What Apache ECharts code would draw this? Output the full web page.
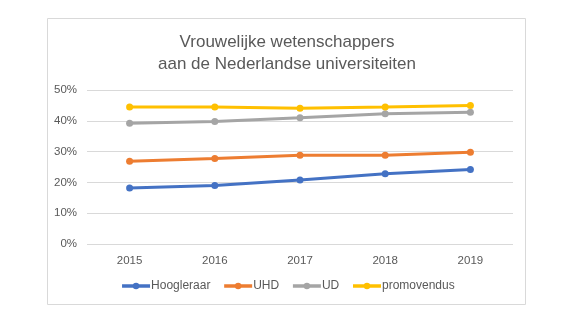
<!DOCTYPE html>
<html><head><meta charset="utf-8">
<script src="https://cdn.jsdelivr.net/npm/echarts@6/dist/echarts.min.js"></script>
<style>html,body{margin:0;padding:0;background:#fff}#c{width:575px;height:324px}</style>
</head><body><div id="c"></div>
<script>
const years = ['2015','2016','2017','2018','2019'];
const hoogleraar = [18.2, 19.0, 20.8, 22.8, 24.2];
const uhd = [26.9, 27.8, 28.8, 28.8, 29.8];
const ud = [39.2, 39.8, 41.0, 42.3, 42.8];
const promovendus = [44.5, 44.5, 44.1, 44.5, 45.0];
const seriesNames = ['Hoogleraar', 'UHD', 'UD', 'promovendus'];
const colors = ['#4472C4', '#ED7D31', '#A5A5A5', '#FFC000'];
const yTicks = [0, 10, 20, 30, 40, 50];

const chart = echarts.init(document.getElementById('c'), null, {renderer: 'canvas'});
const font = 'Liberation Sans, Arial, sans-serif';
const mk = (name, data, i) => ({
  name, type: 'line', data, color: colors[i],
  symbol: 'circle', symbolSize: 7,
  lineStyle: {width: 3, color: colors[i]},
  itemStyle: {color: colors[i]},
  emphasis: {disabled: true}
});
chart.setOption({
  animation: false,
  textStyle: {fontFamily: font},
  title: {
    text: 'Vrouwelijke wetenschappers\naan de Nederlandse universiteiten',
    left: 282, top: 26, textAlign: 'center',
    textStyle: {fontFamily: font, fontSize: 17, fontWeight: 'normal', color: '#595959', lineHeight: 22}
  },
  graphic: [{type: 'rect', shape: {x: 47.5, y: 18.5, width: 478, height: 286}, style: {fill: null, stroke: '#D9D9D9', lineWidth: 1}, z: -1}],
  legend: {
    data: seriesNames, bottom: 27, left: 'center', itemWidth: 28, itemHeight: 8, itemGap: 12,
    lineStyle: {width: 3.5},
    textStyle: {fontFamily: font, fontSize: 12, color: '#595959', padding: [0,0,0,-4]}
  },
  grid: {left: 87, right: 62, top: 90, bottom: 80, containLabel: false},
  xAxis: {
    type: 'category', data: years, boundaryGap: true,
    axisLine: {show: false}, axisTick: {show: false},
    axisLabel: {fontFamily: font, fontSize: 11.5, color: '#595959', margin: 11}
  },
  yAxis: {
    type: 'value', min: yTicks[0], max: yTicks[yTicks.length-1], interval: 10,
    axisLine: {show: false}, axisTick: {show: false},
    axisLabel: {fontFamily: font, fontSize: 11.5, color: '#595959', margin: 10, formatter: v => v + '%'},
    splitLine: {lineStyle: {color: '#D9D9D9', width: 1}}
  },
  series: [mk('Hoogleraar', hoogleraar, 0), mk('UHD', uhd, 1), mk('UD', ud, 2), mk('promovendus', promovendus, 3)]
});
</script></body></html>
